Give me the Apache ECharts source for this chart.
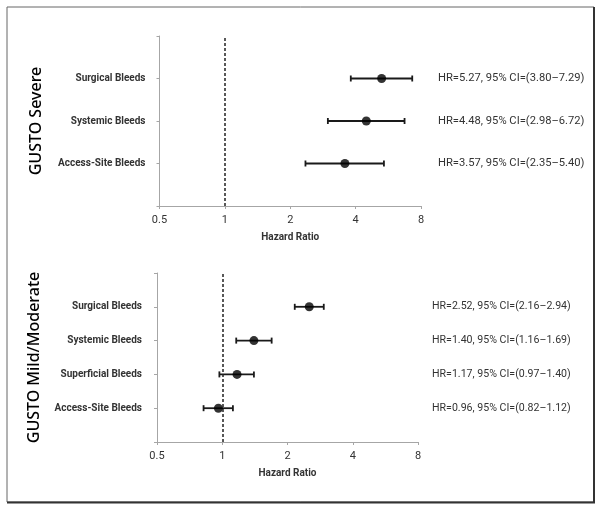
<!DOCTYPE html>
<html><head><meta charset="utf-8">
<script src="https://cdn.jsdelivr.net/npm/echarts@6/dist/echarts.min.js"></script>
<style>html,body{margin:0;padding:0;background:#fff}#c{width:604px;height:510px}</style>
</head><body><div id="c"></div>
<script>
// ---- data ----
const xTicks = [0.5, 1, 2, 4, 8];
const refLine = 1;
const panelTitles = ['GUSTO Severe', 'GUSTO Mild/Moderate'];
const severeCats = ['Surgical Bleeds', 'Systemic Bleeds', 'Access-Site Bleeds'];
const severeHR = [5.27, 4.48, 3.57];
const severeLo = [3.80, 2.98, 2.35];
const severeHi = [7.29, 6.72, 5.40];
const mildCats = ['Surgical Bleeds', 'Systemic Bleeds', 'Superficial Bleeds', 'Access-Site Bleeds'];
const mildHR = [2.52, 1.40, 1.17, 0.96];
const mildLo = [2.16, 1.16, 0.97, 0.82];
const mildHi = [2.94, 1.69, 1.40, 1.12];
const xName = 'Hazard Ratio';

const panels = [
  {cats: severeCats, hr: severeHR, lo: severeLo, hi: severeHi, title: panelTitles[0],
   grid: {left: 159.5, top: 36, width: 261.5, height: 170}, lblMargin: 14, rMargin: 17, hrFont: 11.2},
  {cats: mildCats, hr: mildHR, lo: mildLo, hi: mildHi, title: panelTitles[1],
   grid: {left: 157, top: 273, width: 261, height: 169}, lblMargin: 15, rMargin: 14, hrFont: 10.6}
];

const FONT = 'Roboto';
const axisGray = '#a6a6a6';

function hrText(p, i) {
  return 'HR=' + p.hr[i].toFixed(2) + ', 95% CI=(' + p.lo[i].toFixed(2) + '\u2013' + p.hi[i].toFixed(2) + ')';
}

function errRender(params, api) {
  const y = api.value(2);
  const p1 = api.coord([api.value(0), y]);
  const p2 = api.coord([api.value(1), y]);
  const h = 3;
  const st = {stroke: '#1a1a1a', lineWidth: 1.8};
  return {type: 'group', children: [
    {type: 'line', shape: {x1: p1[0], y1: p1[1], x2: p2[0], y2: p2[1]}, style: st},
    {type: 'line', shape: {x1: p1[0], y1: p1[1] - h, x2: p1[0], y2: p1[1] + h}, style: st},
    {type: 'line', shape: {x1: p2[0], y1: p2[1] - h, x2: p2[0], y2: p2[1] + h}, style: st}
  ]};
}

const grid = [], xAxis = [], yAxis = [], series = [];
panels.forEach((p, k) => {
  const n = p.cats.length;
  grid.push(p.grid);
  xAxis.push({
    type: 'log', logBase: 2, min: xTicks[0], max: xTicks[xTicks.length - 1], gridIndex: k,
    name: xName, nameLocation: 'middle', nameGap: 26,
    nameTextStyle: {fontFamily: FONT, fontSize: 10, fontWeight: 'bold', color: '#333'},
    axisLine: {lineStyle: {color: axisGray, width: 1}},
    axisTick: {show: true, length: 3, lineStyle: {color: axisGray}},
    splitLine: {show: false},
    axisLabel: {margin: 9, fontFamily: FONT, fontSize: 11, color: '#333',
      formatter: v => String(Number(v.toFixed(3)))}
  });
  yAxis.push({
    type: 'value', min: 0, max: n + 1, interval: 1, gridIndex: k, position: 'left',
    name: p.title, nameLocation: 'middle', nameRotate: 90, nameGap: 115,
    nameTextStyle: {fontFamily: 'Noto Sans', fontSize: 16, fontWeight: 500, color: '#000'},
    axisLine: {show: true, lineStyle: {color: axisGray, width: 1}},
    axisTick: {show: true, length: 3, inside: false, lineStyle: {color: axisGray}},
    splitLine: {show: false},
    axisLabel: {margin: p.lblMargin, fontFamily: FONT, fontSize: 10, fontWeight: 'bold', color: '#333',
      formatter: v => { const i = n - v; return (i >= 0 && i < n) ? p.cats[i] : ''; }}
  });
  yAxis.push({
    type: 'value', min: 0, max: n + 1, interval: 1, gridIndex: k, position: 'right',
    axisLine: {show: false}, axisTick: {show: false}, splitLine: {show: false},
    axisLabel: {margin: p.rMargin, fontFamily: FONT, fontSize: p.hrFont, color: '#333', align: 'left',
      formatter: v => { const i = n - v; return (i >= 0 && i < n) ? hrText(p, i) : ''; }}
  });
  series.push({
    type: 'custom', xAxisIndex: k, yAxisIndex: 2 * k, renderItem: errRender,
    data: p.cats.map((c, i) => [p.lo[i], p.hi[i], n - i]), z: 3, silent: true
  });
  series.push({
    type: 'scatter', xAxisIndex: k, yAxisIndex: 2 * k, symbol: 'circle', symbolSize: 9,
    itemStyle: {color: '#000'}, z: 4, silent: true,
    data: p.hr.map((h, i) => [h, n - i]),
    markLine: {silent: true, symbol: ['none', 'none'], label: {show: false},
      lineStyle: {type: [3, 2], color: '#222', width: 1.5}, data: [{xAxis: refLine}]}
  });
});

const chart = echarts.init(document.getElementById('c'), null, {renderer: 'canvas'});
chart.setOption({
  animation: false,
  backgroundColor: '#fff',
  grid, xAxis, yAxis, series,
  graphic: [
    {type: 'rect', shape: {x: 7, y: 7, width: 587, height: 495}, style: {fill: 'none', stroke: '#666', lineWidth: 1}, silent: true},
    {type: 'line', shape: {x1: 594, y1: 7, x2: 594, y2: 503}, style: {stroke: '#333', lineWidth: 2}, silent: true},
    {type: 'line', shape: {x1: 7, y1: 502.5, x2: 595, y2: 502.5}, style: {stroke: '#333', lineWidth: 2}, silent: true}
  ]
});
</script>
</body></html>
